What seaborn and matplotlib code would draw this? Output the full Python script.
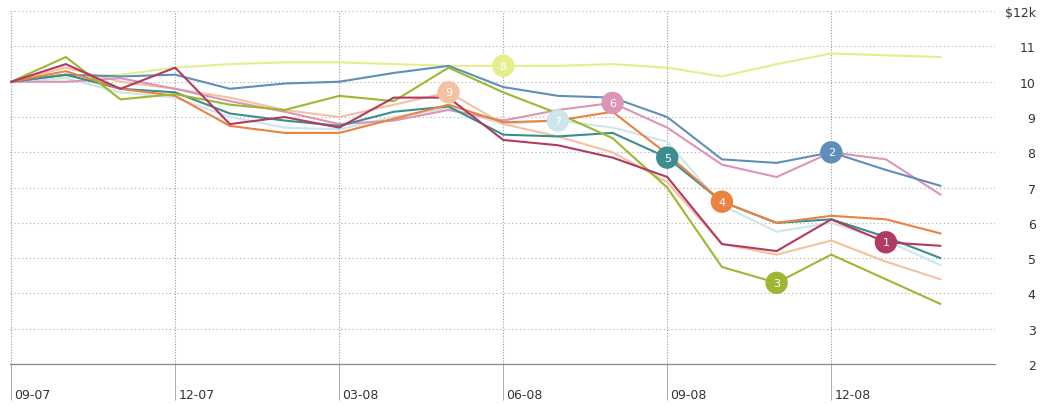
import numpy as np
import pandas as pd
import seaborn as sns
import matplotlib.pyplot as plt
import matplotlib.transforms as mtransforms

months = ['09-07', '10-07', '11-07', '12-07', '01-08', '02-08', '03-08', '04-08', '05-08',
          '06-08', '07-08', '08-08', '09-08', '10-08', '11-08', '12-08', '01-09', '02-09']

s1 = [10, 10.5, 9.8, 10.4, 8.8, 9.0, 8.7, 9.55, 9.55, 8.35, 8.2, 7.85, 7.3, 5.4, 5.2, 6.1, 5.45, 5.35]
s2 = [10, 10.2, 10.15, 10.2, 9.8, 9.95, 10.0, 10.25, 10.45, 9.85, 9.6, 9.55, 9.0, 7.8, 7.7, 8.0, 7.5, 7.05]
s3 = [10, 10.7, 9.5, 9.65, 9.35, 9.2, 9.6, 9.45, 10.4, 9.7, 9.1, 8.4, 7.0, 4.75, 4.3, 5.1, 4.4, 3.7]
s4 = [10, 10.3, 9.8, 9.6, 8.75, 8.55, 8.55, 8.95, 9.35, 8.85, 8.9, 9.15, 7.95, 6.6, 6.0, 6.2, 6.1, 5.7]
s5 = [10, 10.2, 9.8, 9.7, 9.1, 8.9, 8.75, 9.15, 9.3, 8.5, 8.45, 8.55, 7.85, 6.6, 6.0, 6.1, 5.6, 5.0]
s6 = [10, 10.0, 10.1, 9.8, 9.45, 9.15, 8.8, 8.9, 9.2, 8.9, 9.2, 9.4, 8.7, 7.65, 7.3, 8.0, 7.8, 6.8]
s7 = [10, 10.1, 9.7, 9.55, 9.0, 8.7, 8.65, 9.0, 9.25, 8.8, 8.9, 8.7, 8.3, 6.5, 5.75, 6.0, 5.5, 4.8]
s8 = [10, 10.15, 10.2, 10.4, 10.5, 10.55, 10.55, 10.5, 10.45, 10.45, 10.45, 10.5, 10.4, 10.15, 10.5, 10.8, 10.75, 10.7]
s9 = [10, 10.4, 10.0, 9.8, 9.55, 9.2, 9.0, 9.35, 9.7, 8.8, 8.45, 8.0, 7.15, 5.4, 5.1, 5.5, 4.9, 4.4]

series = {'1': s1, '2': s2, '3': s3, '4': s4, '5': s5, '6': s6, '7': s7, '8': s8, '9': s9}
# month at which each series carries its numbered badge
badge_month = {'1': '01-09', '2': '12-08', '3': '11-08', '4': '10-08', '5': '09-08',
               '6': '08-08', '7': '07-08', '8': '06-08', '9': '05-08'}

colors = {'1': '#b23a60', '2': '#5f8fb8', '3': '#9cb833', '4': '#ea8240', '5': '#3c8d8e',
          '6': '#dc94b8', '7': '#cde5ec', '8': '#e5ee8c', '9': '#f2c2a2'}

ytick_vals = [2, 3, 4, 5, 6, 7, 8, 9, 10, 11, 12]
ytick_labels = ['2', '3', '4', '5', '6', '7', '8', '9', '10', '11', '$12k']
xtick_months = ['09-07', '12-07', '03-08', '06-08', '09-08', '12-08']

rows = []
for name, vals in series.items():
    for i, v in enumerate(vals):
        rows.append({'fund': name, 'month': i, 'value': v})
df = pd.DataFrame(rows)

badges = pd.DataFrame({
    'fund': list(badge_month.keys()),
    'month': [months.index(m) for m in badge_month.values()],
})
badges['value'] = [series[f][m] for f, m in zip(badges['fund'], badges['month'])]

sns.set_style('white')
plt.rcParams['font.family'] = ['Liberation Sans Narrow', 'DejaVu Sans']

fig, ax = plt.subplots(figsize=(10.4, 4.06), dpi=100)
fig.subplots_adjust(left=0.0097, right=0.957, top=0.97, bottom=0.101)

order = ['8', '7', '9', '6', '2', '5', '4', '3', '1']
sns.lineplot(data=df, x='month', y='value', hue='fund', hue_order=order,
             palette=colors, linewidth=1.5, legend=False, ax=ax, zorder=3)
sns.scatterplot(data=badges, x='month', y='value', hue='fund', palette=colors,
                s=260, edgecolor='none', legend=False, ax=ax, zorder=4)
for _, r in badges.iterrows():
    ax.text(r['month'], r['value'], r['fund'], color='white', fontsize=8,
            ha='center', va='center', zorder=5)

ax.set_xlim(-0.02, 18.0)
ax.set_ylim(2, 12)

# dotted grid
ax.set_yticks(ytick_vals)
ax.set_yticklabels(ytick_labels)
ax.yaxis.tick_right()
ax.tick_params(axis='y', length=0, pad=29, labelsize=9, labelcolor='#333333')
for lab in ax.get_yticklabels():
    lab.set_horizontalalignment('right')
for v in ytick_vals[1:]:
    ax.axhline(v, color='#aaaaaa', lw=0.8, ls=(0, (1, 2.5)), zorder=1)

ax.set_xticks([months.index(m) for m in xtick_months])
ax.set_xticklabels(xtick_months)
ax.tick_params(axis='x', bottom=True, direction='out', length=26, width=0.7,
               color='#aaaaaa', pad=-9, labelsize=9, labelcolor='#333333')
offset = mtransforms.ScaledTranslation(3 / 100, 0, fig.dpi_scale_trans)
for lab in ax.get_xticklabels():
    lab.set_horizontalalignment('left')
    lab.set_transform(lab.get_transform() + offset)
for m in xtick_months:
    ax.axvline(months.index(m), color='#999999', lw=0.8, ls=(0, (1, 1.5)), zorder=1)

for side in ['top', 'right', 'left']:
    ax.spines[side].set_visible(False)
ax.spines['bottom'].set_color('#888888')
ax.spines['bottom'].set_linewidth(0.9)

ax.set_xlabel('')
ax.set_ylabel('')

fig.savefig('out.png', dpi=100)
